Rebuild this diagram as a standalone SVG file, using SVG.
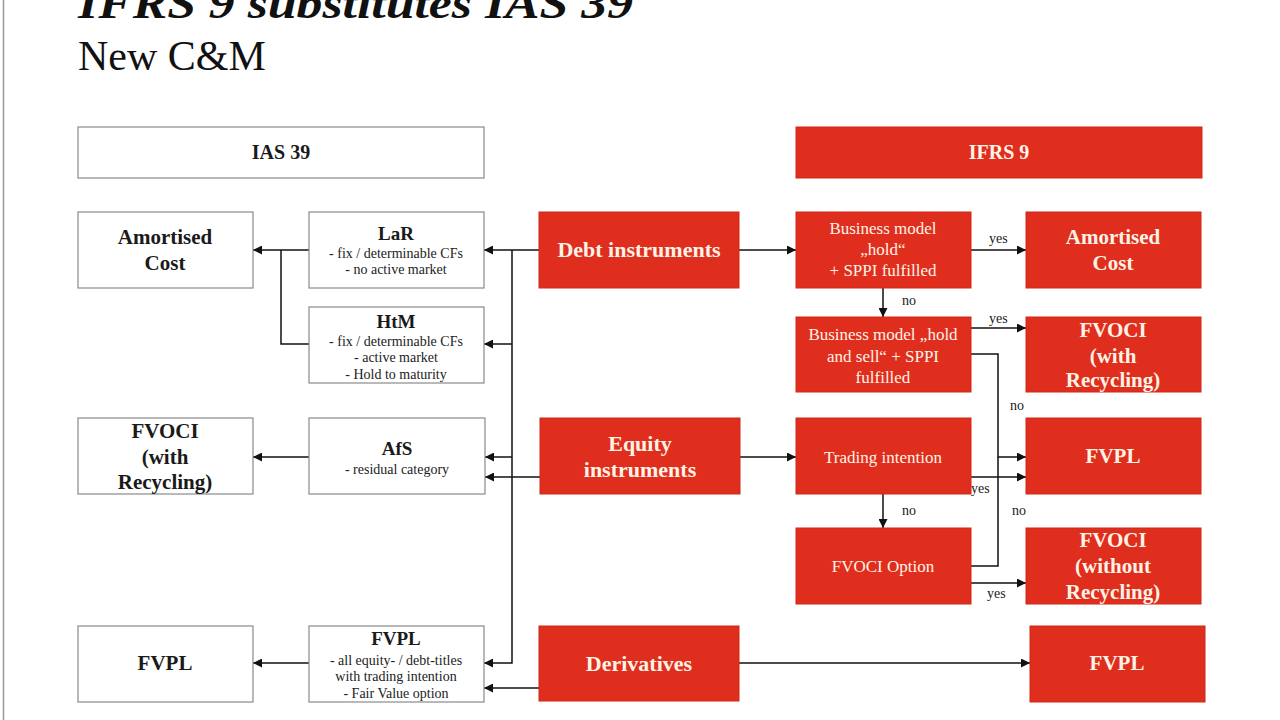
<svg xmlns="http://www.w3.org/2000/svg" width="1280" height="720" viewBox="0 0 1280 720">
<defs>
<marker id="ah" viewBox="0 0 10 10" refX="10" refY="5" markerWidth="9" markerHeight="9" markerUnits="userSpaceOnUse" orient="auto"><path d="M0,0 L10,5 L0,10 z" fill="#111"/></marker>
<style>
.wbox{fill:#fff;stroke:#8a8a8a;stroke-width:1.2}
.rbox{fill:#DF2E1D;stroke:#d02818;stroke-width:1}
.t{font-family:"Liberation Serif","Times New Roman",serif;text-anchor:middle}
.b{font-weight:bold}
.big{font-size:21px}
.sm{font-size:14px;fill:#222}
.dk{fill:#1a1a1a}
.wt{fill:#FFF3E6}
.mid{font-size:17px}
.lbl{font-family:"Liberation Serif","Times New Roman",serif;font-size:14px;fill:#222}
.c{fill:none;stroke:#111;stroke-width:1.5}
.ca{fill:none;stroke:#111;stroke-width:1.5;marker-end:url(#ah)}
</style>
</defs>
<rect width="1280" height="720" fill="#fff"/>
<line x1="3.5" y1="0" x2="3.5" y2="720" stroke="#9a9a9a" stroke-width="1.5"/>
<g id="title">
<text x="78" y="18" font-family="Liberation Serif, serif" font-weight="bold" font-style="italic" font-size="44" fill="#111" textLength="555" lengthAdjust="spacingAndGlyphs">IFRS 9 substitutes IAS 39</text>
<text x="78" y="70" font-family="Liberation Serif, serif" font-size="42" fill="#111">New C&amp;M</text>
</g>
<g id="connectors">
<path class="ca" d="M539,250 H484"/>
<path class="ca" d="M512,250 V663 H484"/>
<path class="ca" d="M512,344 H484"/>
<path class="ca" d="M512,457 H485"/>
<path class="ca" d="M540,477 H485"/>
<path class="ca" d="M539,688 H484"/>
<path class="ca" d="M309,250 H253"/>
<path class="c" d="M309,344 H281 V250"/>
<path class="ca" d="M309,457 H253"/>
<path class="ca" d="M309,663 H253"/>
<path class="ca" d="M739,250 H796"/>
<path class="ca" d="M971,250 H1026"/>
<path class="ca" d="M883,288 V317"/>
<path class="ca" d="M971,328 H1026"/>
<path class="ca" d="M971,354 H998 V457 H1026"/>
<path class="ca" d="M740,457 H796"/>
<path class="ca" d="M971,477 H1026"/>
<path class="ca" d="M883,494 V528"/>
<path class="c" d="M971,566 H998 V457"/>
<path class="ca" d="M971,583 H1026"/>
<path class="ca" d="M739,663 H1030"/>
<text class="lbl" x="989" y="243">yes</text>
<text class="lbl" x="902" y="305">no</text>
<text class="lbl" x="989" y="323">yes</text>
<text class="lbl" x="1010" y="410">no</text>
<text class="lbl" x="971" y="493">yes</text>
<text class="lbl" x="902" y="515">no</text>
<text class="lbl" x="1012" y="515">no</text>
<text class="lbl" x="987" y="598">yes</text>
</g>
<g id="ias39-header"><rect class="wbox" x="78" y="127" width="406" height="51"/><text class="t b dk" x="281" y="159" font-size="20">IAS 39</text></g>
<g id="ifrs9-header"><rect class="rbox" x="796" y="127" width="406" height="51"/><text class="t b wt" x="999" y="159" font-size="20">IFRS 9</text></g>
<g id="ias-amortised-cost"><rect class="wbox" x="78" y="212" width="175" height="76"/><text class="t b big dk" x="165" y="244">Amortised</text><text class="t b big dk" x="165" y="270">Cost</text></g>
<g id="lar"><rect class="wbox" x="309" y="212" width="175" height="76"/><text class="t b dk" x="396" y="240" font-size="19">LaR</text><text class="t sm" x="396" y="258">- fix / determinable CFs</text><text class="t sm" x="396" y="274">- no active market</text></g>
<g id="htm"><rect class="wbox" x="309" y="307" width="175" height="76"/><text class="t b dk" x="396" y="328" font-size="19">HtM</text><text class="t sm" x="396" y="346">- fix / determinable CFs</text><text class="t sm" x="396" y="362">- active market</text><text class="t sm" x="396" y="379">- Hold to maturity</text></g>
<g id="ias-fvoci"><rect class="wbox" x="78" y="418" width="175" height="76"/><text class="t b big dk" x="165" y="438">FVOCI</text><text class="t b big dk" x="165" y="464">(with</text><text class="t b big dk" x="165" y="489">Recycling)</text></g>
<g id="afs"><rect class="wbox" x="309" y="418" width="176" height="76"/><text class="t b dk" x="397" y="455" font-size="19">AfS</text><text class="t sm" x="397" y="474">- residual category</text></g>
<g id="ias-fvpl"><rect class="wbox" x="78" y="626" width="175" height="76"/><text class="t b big dk" x="165" y="670">FVPL</text></g>
<g id="ias-fvpl-cat"><rect class="wbox" x="309" y="626" width="175" height="76"/><text class="t b dk" x="396" y="645" font-size="19">FVPL</text><text class="t sm" x="396" y="665">- all equity- / debt-titles</text><text class="t sm" x="396" y="681">with trading intention</text><text class="t sm" x="396" y="698">- Fair Value option</text></g>
<g id="debt"><rect class="rbox" x="539" y="212" width="200" height="76"/><text class="t b wt" x="639" y="257" font-size="22">Debt instruments</text></g>
<g id="equity"><rect class="rbox" x="540" y="418" width="200" height="76"/><text class="t b wt" x="640" y="451" font-size="22">Equity</text><text class="t b wt" x="640" y="477" font-size="22">instruments</text></g>
<g id="derivatives"><rect class="rbox" x="539" y="626" width="200" height="75"/><text class="t b wt" x="639" y="671" font-size="22">Derivatives</text></g>
<g id="bm-hold"><rect class="rbox" x="796" y="212" width="175" height="76"/><text class="t wt mid" x="883" y="234">Business model</text><text class="t wt mid" x="883" y="255">„hold“</text><text class="t wt mid" x="883" y="276">+ SPPI fulfilled</text></g>
<g id="ifrs-amortised-cost"><rect class="rbox" x="1026" y="212" width="175" height="76"/><text class="t b big wt" x="1113" y="244">Amortised</text><text class="t b big wt" x="1113" y="270">Cost</text></g>
<g id="bm-hold-sell"><rect class="rbox" x="796" y="317" width="175" height="75"/><text class="t wt mid" x="883" y="340">Business model „hold</text><text class="t wt mid" x="883" y="362">and sell“ + SPPI</text><text class="t wt mid" x="883" y="383">fulfilled</text></g>
<g id="ifrs-fvoci-rec"><rect class="rbox" x="1026" y="317" width="175" height="75"/><text class="t b big wt" x="1113" y="337">FVOCI</text><text class="t b big wt" x="1113" y="363">(with</text><text class="t b big wt" x="1113" y="387">Recycling)</text></g>
<g id="trading"><rect class="rbox" x="796" y="418" width="175" height="76"/><text class="t wt mid" x="883" y="463">Trading intention</text></g>
<g id="ifrs-fvpl"><rect class="rbox" x="1026" y="418" width="175" height="76"/><text class="t b big wt" x="1113" y="463">FVPL</text></g>
<g id="fvoci-option"><rect class="rbox" x="796" y="528" width="175" height="76"/><text class="t wt mid" x="883" y="572">FVOCI Option</text></g>
<g id="ifrs-fvoci-norec"><rect class="rbox" x="1026" y="528" width="175" height="76"/><text class="t b big wt" x="1113" y="547">FVOCI</text><text class="t b big wt" x="1113" y="573">(without</text><text class="t b big wt" x="1113" y="599">Recycling)</text></g>
<g id="ifrs-fvpl-deriv"><rect class="rbox" x="1030" y="626" width="175" height="76"/><text class="t b big wt" x="1117" y="670">FVPL</text></g>
</svg>
